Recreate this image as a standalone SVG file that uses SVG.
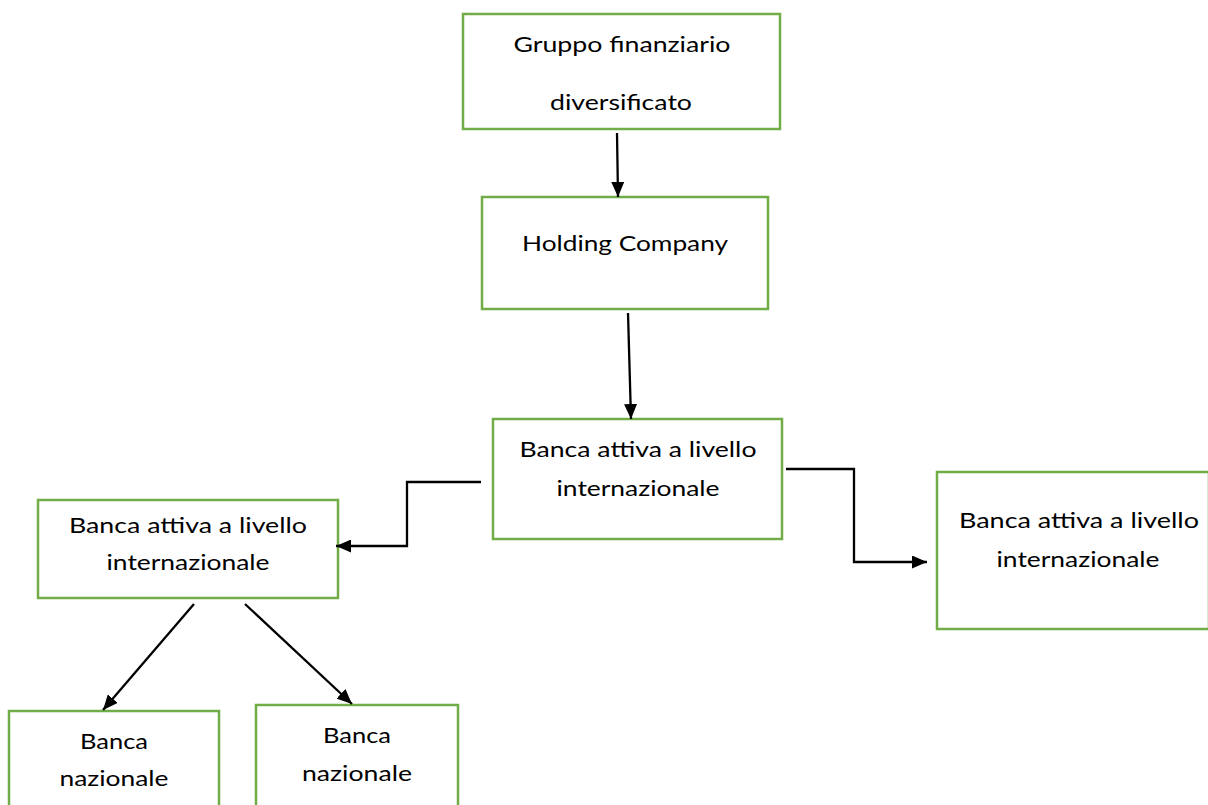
<svg xmlns="http://www.w3.org/2000/svg" width="1208" height="805" viewBox="0 0 1208 805">
  <style>
    .box { fill: #ffffff; stroke: #70ad47; stroke-width: 2.5; }
    .lbl { font-family: Lato, "Open Sans", sans-serif; font-size: 21px; fill: #000000; text-anchor: middle; }
    .link { fill: none; stroke: #000000; stroke-width: 2.3; }
  </style>
  <defs>
    <marker id="arrow" viewBox="0 0 15 13" refX="15" refY="6.5" markerWidth="15" markerHeight="13" markerUnits="userSpaceOnUse" orient="auto">
      <path d="M0,0 L15,6.5 L0,13 Z" fill="#000000"/>
    </marker>
  </defs>
  <rect width="1208" height="805" fill="#ffffff"/>

  <g id="gruppo">
    <rect class="box" x="463" y="14" width="317" height="115"/>
    <text class="lbl" x="622" y="52" textLength="217" lengthAdjust="spacingAndGlyphs">Gruppo finanziario</text>
    <text class="lbl" x="621" y="110" textLength="142" lengthAdjust="spacingAndGlyphs">diversificato</text>
  </g>

  <g id="holding">
    <rect class="box" x="482" y="197" width="286" height="112"/>
    <text class="lbl" x="625" y="251" textLength="206" lengthAdjust="spacingAndGlyphs">Holding Company</text>
  </g>

  <g id="banca-int-centro">
    <rect class="box" x="493" y="419" width="289" height="120"/>
    <text class="lbl" x="638" y="457" textLength="237" lengthAdjust="spacingAndGlyphs">Banca attiva a livello</text>
    <text class="lbl" x="638" y="496" textLength="163" lengthAdjust="spacingAndGlyphs">internazionale</text>
  </g>

  <g id="banca-int-sinistra">
    <rect class="box" x="38" y="500" width="300" height="98"/>
    <text class="lbl" x="188" y="533" textLength="238" lengthAdjust="spacingAndGlyphs">Banca attiva a livello</text>
    <text class="lbl" x="188" y="570" textLength="163" lengthAdjust="spacingAndGlyphs">internazionale</text>
  </g>

  <g id="banca-int-destra">
    <rect class="box" x="937" y="472" width="272" height="157"/>
    <text class="lbl" x="1079" y="528" textLength="240" lengthAdjust="spacingAndGlyphs">Banca attiva a livello</text>
    <text class="lbl" x="1078" y="567" textLength="163" lengthAdjust="spacingAndGlyphs">internazionale</text>
  </g>

  <g id="banca-naz-1">
    <rect class="box" x="9" y="711" width="210" height="100"/>
    <text class="lbl" x="114" y="749" textLength="68" lengthAdjust="spacingAndGlyphs">Banca</text>
    <text class="lbl" x="114" y="786" textLength="109" lengthAdjust="spacingAndGlyphs">nazionale</text>
  </g>

  <g id="banca-naz-2">
    <rect class="box" x="256" y="705" width="202" height="106"/>
    <text class="lbl" x="357" y="743" textLength="68" lengthAdjust="spacingAndGlyphs">Banca</text>
    <text class="lbl" x="357" y="781" textLength="110" lengthAdjust="spacingAndGlyphs">nazionale</text>
  </g>

  <g id="connectors">
    <line class="link" x1="617" y1="133" x2="618" y2="197" marker-end="url(#arrow)"/>
    <line class="link" x1="628" y1="313" x2="631" y2="419" marker-end="url(#arrow)"/>
    <polyline class="link" points="481,482 407,482 407,546 336,546" marker-end="url(#arrow)"/>
    <polyline class="link" points="786,469 854,469 854,562 927,562" marker-end="url(#arrow)"/>
    <line class="link" x1="194" y1="604" x2="103" y2="710" marker-end="url(#arrow)"/>
    <line class="link" x1="245" y1="604" x2="352" y2="704" marker-end="url(#arrow)"/>
  </g>
</svg>
